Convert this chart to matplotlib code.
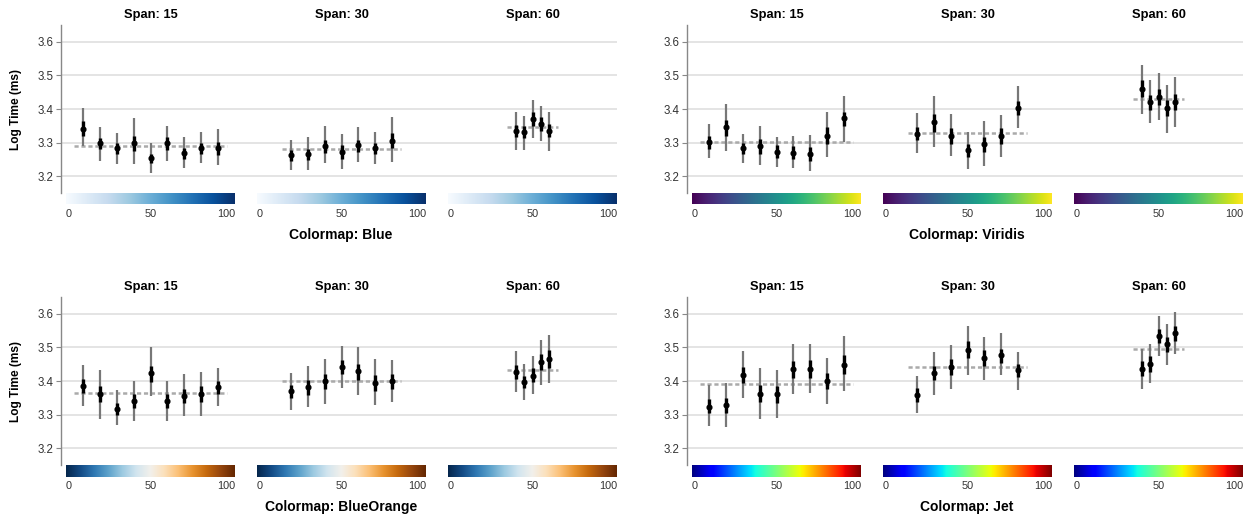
import numpy as np
import matplotlib
matplotlib.use('Agg')
import matplotlib.pyplot as plt
from matplotlib.colors import LinearSegmentedColormap

plt.rcParams['font.family'] = ['Liberation Sans', 'DejaVu Sans']
plt.rcParams['lines.scale_dashes'] = False

# ---------------- data ----------------
spans = [15, 30, 60]
x_span15 = [10, 20, 30, 40, 50, 60, 70, 80, 90]
x_span30 = [20, 30, 40, 50, 60, 70, 80]
x_span60 = [40, 45, 50, 55, 60]
tick_values = [0, 50, 100]
cmap_names = ['Blue', 'Viridis', 'BlueOrange', 'Jet']

# Blue
blue_center = [[3.341, 3.298, 3.285, 3.299, 3.253, 3.299, 3.268, 3.285, 3.285],
               [3.263, 3.265, 3.290, 3.273, 3.292, 3.283, 3.306],
               [3.335, 3.331, 3.369, 3.355, 3.335]]
blue_outer_lo = [[3.289, 3.246, 3.236, 3.236, 3.209, 3.246, 3.224, 3.238, 3.233],
                 [3.218, 3.218, 3.239, 3.221, 3.241, 3.236, 3.241],
                 [3.279, 3.279, 3.313, 3.304, 3.274]]
blue_outer_hi = [[3.404, 3.345, 3.329, 3.372, 3.299, 3.350, 3.316, 3.332, 3.341],
                 [3.309, 3.318, 3.350, 3.326, 3.347, 3.332, 3.377],
                 [3.392, 3.380, 3.427, 3.409, 3.392]]
blue_inner_lo = [[3.320, 3.282, 3.267, 3.274, 3.240, 3.279, 3.251, 3.267, 3.264],
                 [3.246, 3.247, 3.269, 3.252, 3.271, 3.266, 3.284],
                 [3.317, 3.314, 3.350, 3.335, 3.316]]
blue_inner_hi = [[3.363, 3.313, 3.299, 3.320, 3.267, 3.318, 3.284, 3.299, 3.302],
                 [3.279, 3.281, 3.309, 3.292, 3.309, 3.299, 3.328],
                 [3.353, 3.348, 3.390, 3.375, 3.356]]
blue_mean = [3.289, 3.282, 3.345]

# Viridis
viridis_center = [[3.303, 3.345, 3.283, 3.289, 3.272, 3.270, 3.266, 3.319, 3.372],
                  [3.327, 3.360, 3.319, 3.277, 3.295, 3.320, 3.404],
                  [3.460, 3.421, 3.437, 3.402, 3.421]]
viridis_outer_lo = [[3.255, 3.276, 3.240, 3.233, 3.227, 3.224, 3.215, 3.256, 3.303],
                    [3.268, 3.286, 3.259, 3.221, 3.230, 3.256, 3.344],
                    [3.384, 3.357, 3.366, 3.330, 3.345]]
viridis_outer_hi = [[3.356, 3.415, 3.326, 3.350, 3.318, 3.320, 3.323, 3.392, 3.439],
                    [3.389, 3.439, 3.386, 3.332, 3.365, 3.383, 3.469],
                    [3.531, 3.486, 3.507, 3.471, 3.495]]
viridis_inner_lo = [[3.282, 3.320, 3.267, 3.267, 3.253, 3.251, 3.246, 3.295, 3.348],
                    [3.307, 3.332, 3.297, 3.257, 3.271, 3.297, 3.383],
                    [3.437, 3.398, 3.412, 3.378, 3.396]]
viridis_inner_hi = [[3.320, 3.368, 3.299, 3.311, 3.292, 3.289, 3.286, 3.345, 3.391],
                    [3.347, 3.386, 3.342, 3.297, 3.318, 3.342, 3.424],
                    [3.486, 3.442, 3.460, 3.427, 3.445]]
viridis_mean = [3.302, 3.328, 3.429]

# BlueOrange
blueorange_center = [[3.386, 3.360, 3.318, 3.340, 3.423, 3.340, 3.356, 3.362, 3.381],
                     [3.371, 3.381, 3.400, 3.442, 3.429, 3.395, 3.400],
                     [3.428, 3.397, 3.416, 3.457, 3.466]]
blueorange_outer_lo = [[3.325, 3.287, 3.270, 3.282, 3.356, 3.282, 3.297, 3.297, 3.325],
                       [3.314, 3.323, 3.332, 3.380, 3.358, 3.329, 3.338],
                       [3.368, 3.343, 3.361, 3.388, 3.394]]
blueorange_outer_hi = [[3.447, 3.433, 3.373, 3.400, 3.500, 3.400, 3.420, 3.426, 3.438],
                       [3.423, 3.444, 3.465, 3.503, 3.500, 3.465, 3.462],
                       [3.489, 3.452, 3.474, 3.521, 3.536]]
blueorange_inner_lo = [[3.365, 3.337, 3.299, 3.320, 3.398, 3.320, 3.335, 3.338, 3.361],
                       [3.350, 3.358, 3.376, 3.420, 3.402, 3.370, 3.376],
                       [3.405, 3.378, 3.396, 3.434, 3.439]]
blueorange_inner_hi = [[3.405, 3.385, 3.335, 3.362, 3.445, 3.361, 3.377, 3.385, 3.400],
                       [3.388, 3.402, 3.421, 3.462, 3.450, 3.417, 3.420],
                       [3.449, 3.414, 3.438, 3.480, 3.491]]
blueorange_mean = [3.364, 3.401, 3.432]

# Jet
jet_center = [[3.324, 3.328, 3.419, 3.362, 3.361, 3.435, 3.435, 3.400, 3.448],
              [3.358, 3.423, 3.442, 3.493, 3.468, 3.477, 3.432],
              [3.436, 3.451, 3.534, 3.509, 3.544]]
jet_outer_lo = [[3.265, 3.262, 3.350, 3.288, 3.291, 3.362, 3.365, 3.332, 3.371],
                [3.306, 3.358, 3.377, 3.418, 3.402, 3.418, 3.374],
                [3.377, 3.394, 3.474, 3.448, 3.481]]
jet_outer_hi = [[3.388, 3.393, 3.488, 3.438, 3.432, 3.509, 3.509, 3.468, 3.533],
                [3.414, 3.485, 3.506, 3.565, 3.530, 3.542, 3.486],
                [3.496, 3.509, 3.592, 3.571, 3.604]]
jet_inner_lo = [[3.304, 3.306, 3.395, 3.338, 3.335, 3.409, 3.410, 3.376, 3.422],
                [3.337, 3.402, 3.417, 3.468, 3.445, 3.454, 3.411],
                [3.414, 3.427, 3.513, 3.486, 3.519]]
jet_inner_hi = [[3.346, 3.350, 3.441, 3.388, 3.385, 3.460, 3.462, 3.423, 3.477],
                [3.379, 3.445, 3.465, 3.518, 3.491, 3.496, 3.452],
                [3.459, 3.474, 3.556, 3.531, 3.565]]
jet_mean = [3.391, 3.441, 3.494]

blueorange_colors = ['#05264c', '#134b85', '#2f78b3', '#5da2cb', '#9dcae1', '#d2e5ef',
                     '#f2f0eb', '#fce0ba', '#fbbf74', '#e8932f', '#c5690d', '#96460e', '#642702']

# ---------------- layout ----------------
W, H = 1248, 519
fig = plt.figure(figsize=(W / 100, H / 100), dpi=100)


def fr(x0, y0, w, h):
    return [x0 / W, 1 - (y0 + h) / H, w / W, h / H]


x_by_span = [x_span15, x_span30, x_span60]
panels = [
    ('Blue', plt.get_cmap('Blues'), blue_center, blue_outer_lo, blue_outer_hi,
     blue_inner_lo, blue_inner_hi, blue_mean),
    ('Viridis', plt.get_cmap('viridis'), viridis_center, viridis_outer_lo, viridis_outer_hi,
     viridis_inner_lo, viridis_inner_hi, viridis_mean),
    ('BlueOrange', LinearSegmentedColormap.from_list('blueorange', blueorange_colors),
     blueorange_center, blueorange_outer_lo, blueorange_outer_hi,
     blueorange_inner_lo, blueorange_inner_hi, blueorange_mean),
    ('Jet', plt.get_cmap('jet'), jet_center, jet_outer_lo, jet_outer_hi,
     jet_inner_lo, jet_inner_hi, jet_mean),
]

axis_x = [61, 687]
axis_y = [25, 297]
ax_h = 168
facet_w = 169
facet_gap = 22
pad = 5
ax_w = pad + 3 * facet_w + 2 * facet_gap
unit = facet_w / 100.0
offset_units = (facet_w + facet_gap) / unit
gradient = np.linspace(0, 1, 256)[None, :]

for k, (name, cmap, cen, olo, ohi, ilo, ihi, mean) in enumerate(panels):
    x0 = axis_x[k % 2]
    y0 = axis_y[k // 2]
    ax = fig.add_axes(fr(x0, y0, ax_w, ax_h))
    ax.set_xlim(-pad / unit, ax_w / unit - pad / unit)
    ax.set_ylim(3.15, 3.65)
    ax.set_yticks([3.2, 3.3, 3.4, 3.5, 3.6])
    ax.set_yticklabels(['3.2', '3.3', '3.4', '3.5', '3.6'])
    ax.yaxis.grid(True, color='#dddddd', lw=1.1)
    ax.set_axisbelow(True)
    ax.set_xticks([])
    for s in ['top', 'right', 'bottom']:
        ax.spines[s].set_visible(False)
    ax.spines['left'].set_color('#888888')
    ax.spines['left'].set_linewidth(1.0)
    ax.tick_params(axis='y', length=3.5, width=0.8, color='#888888',
                   labelsize=8.3, labelcolor='#333333', pad=2)

    for i, span in enumerate(spans):
        off = i * offset_units
        xs = np.array(x_by_span[i]) + off
        ax.plot([xs[0] - 5, xs[-1] + 5], [mean[i], mean[i]], color='#aaaaaa',
                lw=1.8, dashes=(3, 2), zorder=2)
        ax.vlines(xs, olo[i], ohi[i], color='#777777', lw=1.6, zorder=3)
        ax.vlines(xs, ilo[i], ihi[i], color='black', lw=2.4, zorder=4)
        ax.plot(xs, cen[i], 'o', color='black', ms=3.4, zorder=5)

        fx = x0 + pad + i * (facet_w + facet_gap)
        fig.text((fx + facet_w / 2) / W, 1 - (y0 - 10) / H, 'Span: %d' % span,
                 ha='center', va='center', fontsize=9.3, fontweight='bold')
        cb = fig.add_axes(fr(fx, y0 + ax_h, facet_w, 11.5))
        cb.imshow(gradient, aspect='auto', cmap=cmap, extent=(0, 100, 0, 1))
        cb.set_xlim(0, 100)
        cb.axis('off')
        for t, ha in zip(tick_values, ['left', 'center', 'right']):
            cb.text(t, -0.35, str(t), ha=ha, va='top', fontsize=7.8, color='#333333',
                    transform=cb.get_xaxis_transform())

    fig.text((x0 + ax_w / 2 + 2) / W, 1 - (y0 + 210) / H, 'Colormap: ' + name,
             ha='center', va='center', fontsize=10, fontweight='bold')
    if k % 2 == 0:
        fig.text(16 / W, 1 - (y0 + ax_h / 2) / H, 'Log Time (ms)', rotation=90,
                 ha='center', va='center', fontsize=8.6, fontweight='bold')

fig.savefig('out.png', dpi=100)
